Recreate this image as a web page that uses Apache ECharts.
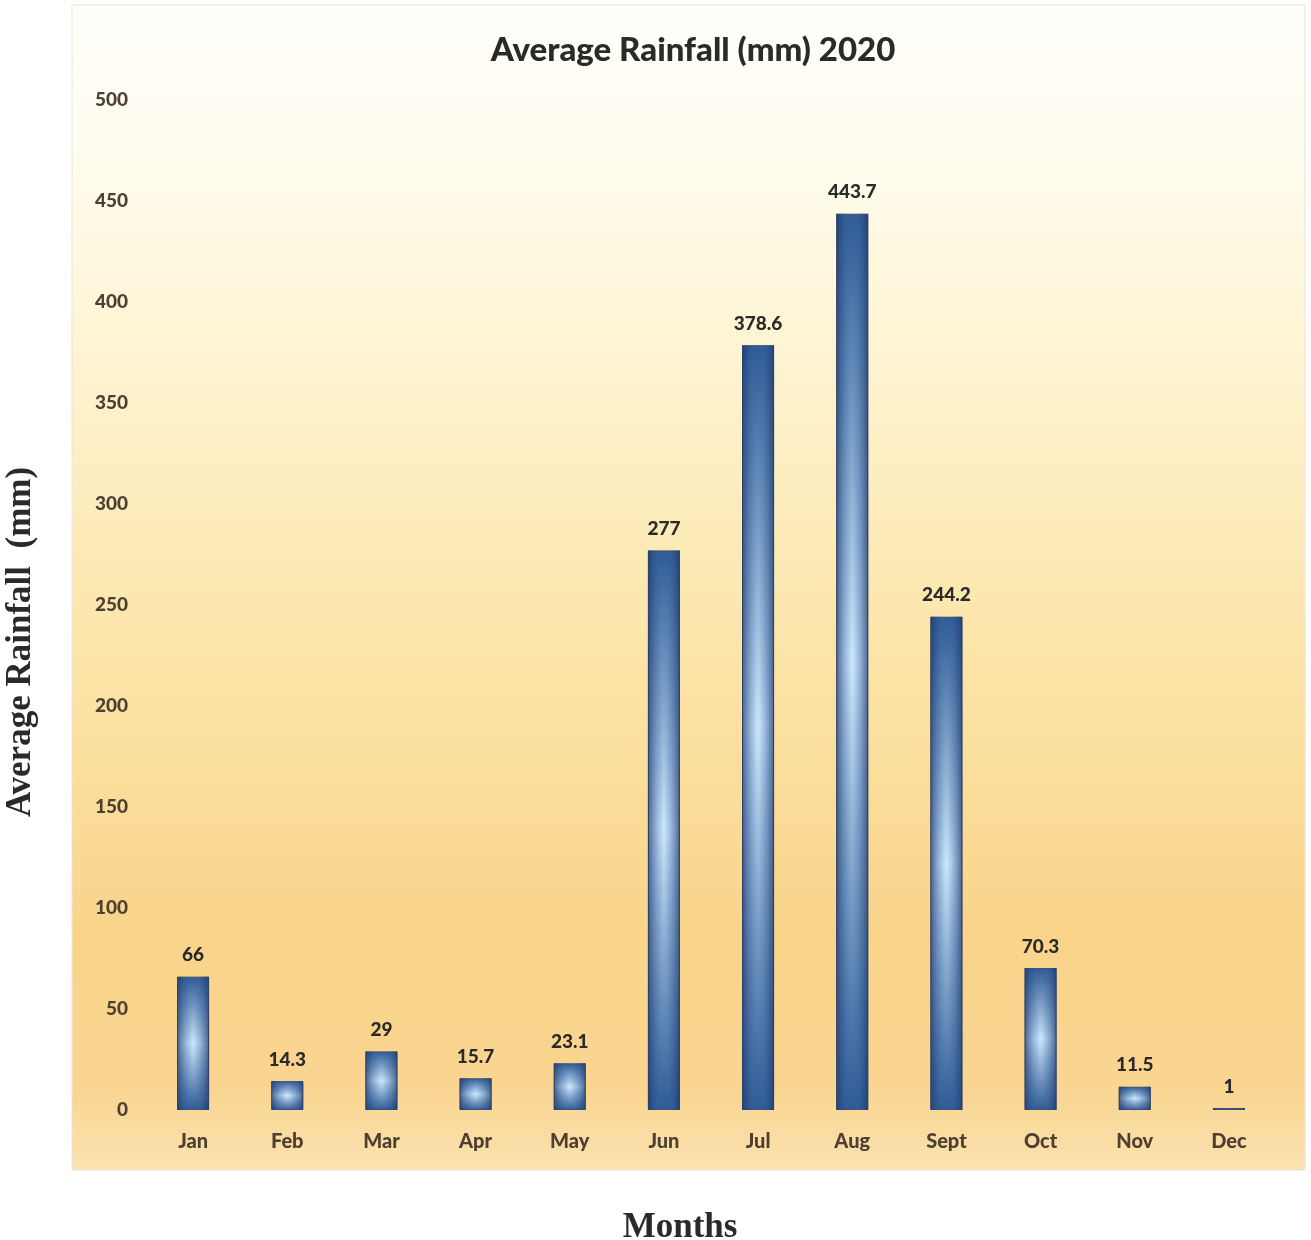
<!DOCTYPE html>
<html>
<head>
<meta charset="utf-8">
<script src="https://cdn.jsdelivr.net/npm/echarts@6/dist/echarts.min.js"></script>
<style>
html,body{margin:0;padding:0;background:#fff;}
#chart{width:1311px;height:1240px;}
</style>
</head>
<body>
<div id="chart"></div>
<script>
const months = ['Jan','Feb','Mar','Apr','May','Jun','Jul','Aug','Sept','Oct','Nov','Dec'];
const rainfall = [66, 14.3, 29, 15.7, 23.1, 277, 378.6, 443.7, 244.2, 70.3, 11.5, 1];
const yTicks = {min: 0, max: 500, interval: 50};

const chart = echarts.init(document.getElementById('chart'));
const option = {
  backgroundColor: '#ffffff',
  graphic: [{
    type: 'rect',
    z: -10,
    silent: true,
    shape: {x: 72, y: 5, width: 1233, height: 1165},
    style: {
      fill: {
        type: 'linear', x: 0, y: 0, x2: 0, y2: 1,
        colorStops: [
          {offset: 0, color: '#fffefa'},
          {offset: 0.12, color: '#fffdf0'},
          {offset: 0.3, color: '#fef4d2'},
          {offset: 0.55, color: '#fce5a9'},
          {offset: 0.8, color: '#f9d48a'},
          {offset: 0.93, color: '#f9d591'},
          {offset: 1, color: '#fbe2b0'}
        ]
      },
      stroke: '#e8e4dc',
      lineWidth: 1
    }
  }],
  title: {
    text: 'Average Rainfall (mm) 2020',
    left: 688, top: 29, textAlign: 'center',
    textStyle: {fontFamily: 'Lato', fontWeight: 900, fontSize: 33, color: '#2a2a2a'}
  },
  grid: {left: 146, right: 35, top: 100, bottom: 130, outerBoundsMode: 'none', containLabel: false},
  xAxis: {
    type: 'category',
    data: months,
    name: 'Months',
    nameLocation: 'middle',
    nameGap: 100,
    nameTextStyle: {fontFamily: 'Liberation Serif', fontWeight: 'bold', fontSize: 35, color: '#2a2a2a', padding: [0, 62, 0, 0]},
    axisLine: {show: false},
    axisTick: {show: false},
    axisLabel: {margin: 22, fontFamily: 'Lato', fontWeight: 900, fontSize: 20, color: '#4d4033'}
  },
  yAxis: {
    type: 'value',
    min: yTicks.min, max: yTicks.max, interval: yTicks.interval,
    name: 'Average Rainfall  (mm)',
    nameLocation: 'middle',
    nameGap: 108,
    nameTextStyle: {fontFamily: 'Liberation Serif', fontWeight: 'bold', fontSize: 35, color: '#2a2a2a', padding: [0, 74, 0, 0]},
    axisLine: {show: false},
    axisTick: {show: false},
    splitLine: {show: false},
    axisLabel: {margin: 18, fontFamily: 'Lato', fontWeight: 900, fontSize: 19, color: '#4d4033'}
  },
  series: [{
    type: 'bar',
    data: rainfall,
    barWidth: 32,
    itemStyle: {
      color: {
        type: 'linear', x: 0, y: 0, x2: 0, y2: 1,
        colorStops: [
          {offset: 0, color: '#2f5a92'},
          {offset: 0.5, color: '#cfe7fa'},
          {offset: 1, color: '#2f5a92'}
        ]
      },
      borderColor: '#4a4a6a',
      borderWidth: 1
    },
    label: {
      show: true, position: 'top', distance: 12,
      fontFamily: 'Lato', fontWeight: 900, fontSize: 19, color: '#2a2a2a'
    },
    z: 2
  }, {
    type: 'bar',
    data: rainfall,
    barWidth: 32,
    barGap: '-100%',
    silent: true,
    itemStyle: {
      color: {
        type: 'linear', x: 0, y: 0, x2: 1, y2: 0,
        colorStops: [
          {offset: 0, color: 'rgba(30,55,100,0.75)'},
          {offset: 0.5, color: 'rgba(60,120,200,0)'},
          {offset: 1, color: 'rgba(30,55,100,0.75)'}
        ]
      }
    },
    label: {show: false},
    z: 3
  }]
};
chart.setOption(option);
</script>
</body>
</html>
